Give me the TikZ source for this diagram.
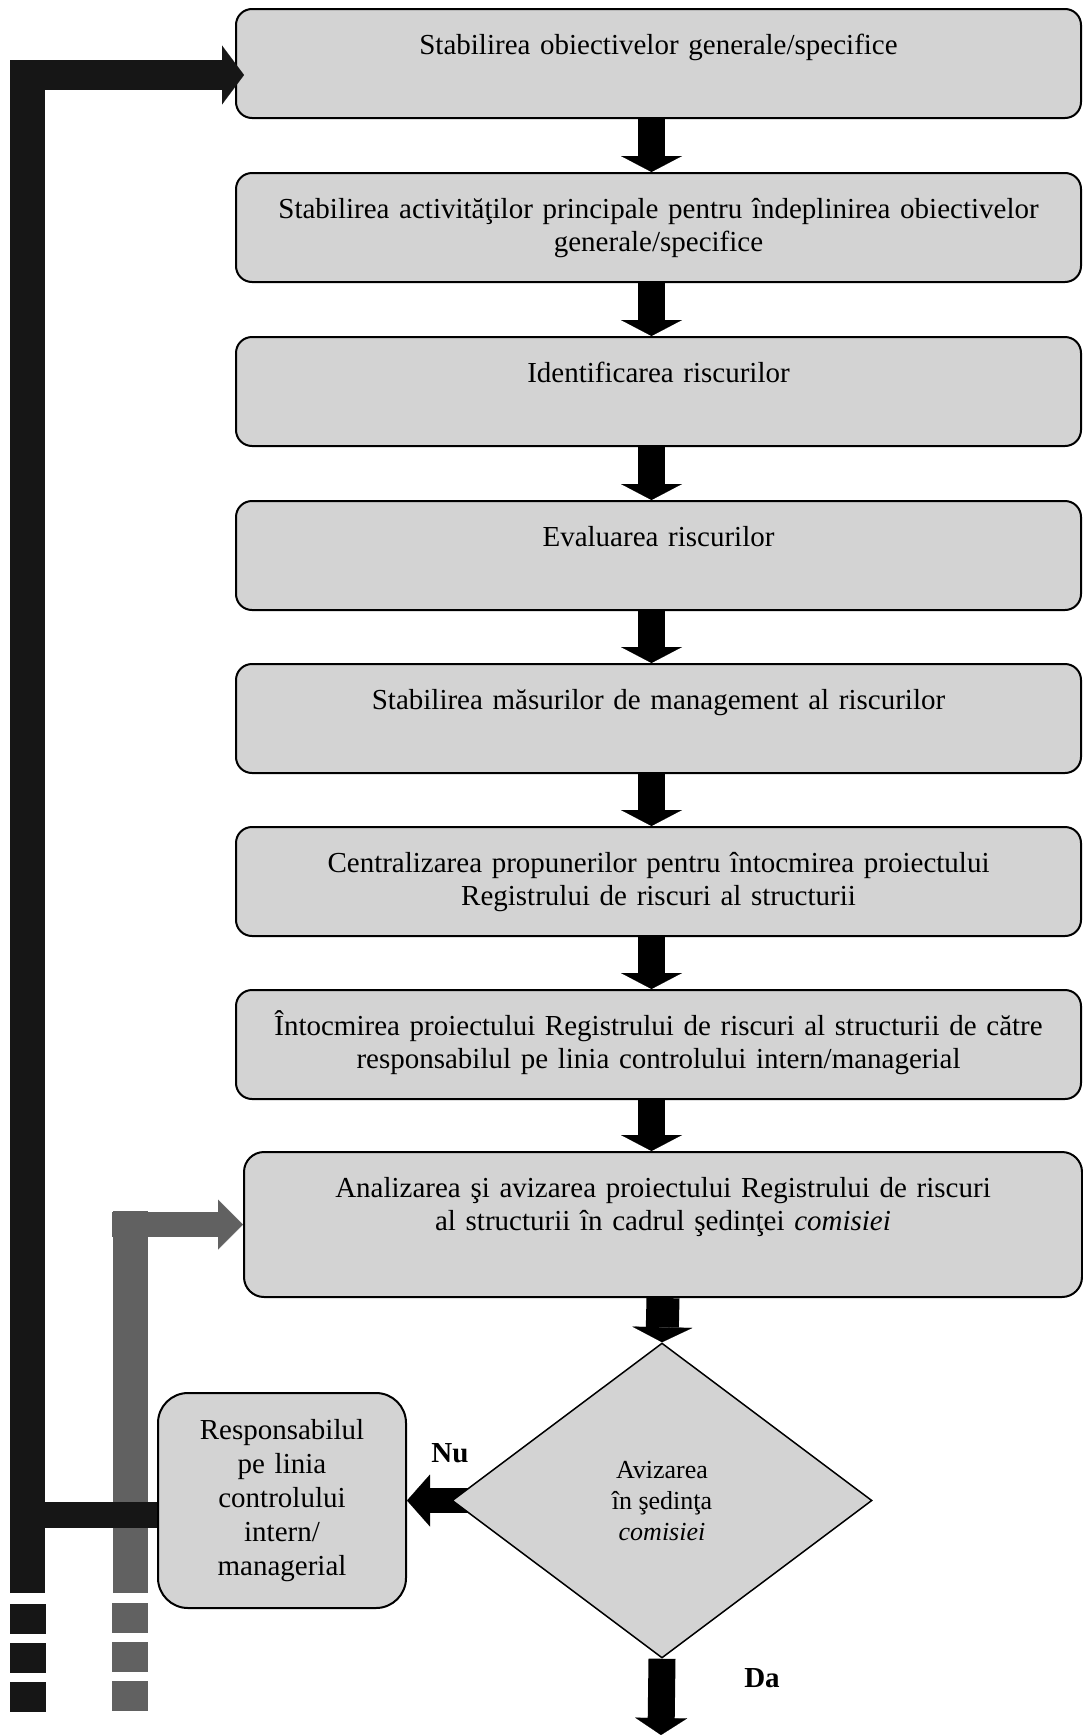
\documentclass[tikz,border=0pt]{standalone}
\usepackage{fontspec}
\setmainfont{Liberation Serif}
\usetikzlibrary{arrows.meta,shapes.geometric,backgrounds}

\definecolor{boxgray}{RGB}{211,211,211}
\definecolor{loopblack}{RGB}{22,22,22}
\definecolor{loopgray}{RGB}{97,97,97}

\tikzset{
    stepbox/.style={draw, line width=2pt, fill=boxgray, rounded corners=16pt,
        text width=830pt, align=center, inner xsep=7.5pt, inner ysep=0pt,
        text height=45pt, text depth=64pt, font=\fontsize{29}{33.5}\selectfont},
    respbox/.style={draw, line width=2pt, fill=boxgray, rounded corners=30pt,
        minimum width=248pt, minimum height=215pt, text width=230pt, inner sep=0pt,
        align=center, font=\fontsize{29}{34}\selectfont},
    decision/.style={diamond, draw, line width=1.5pt, fill=boxgray, inner sep=0pt,
        minimum width=420pt, minimum height=315pt, align=center,
        font=\fontsize{26}{31}\selectfont},
    branch/.style={font=\fontsize{29}{34}\selectfont\bfseries},
    flow/.style={line width=27pt, -{Triangle[width=61pt,length=16pt,line width=0.1pt]}},
}

\begin{document}
\begin{tikzpicture}[x=1pt,y=-1pt]

    \useasboundingbox (0,0) rectangle (1083,1735);

    \node[stepbox] (P1) at (658.5,63.5) {Stabilirea obiectivelor generale/specifice};
    \node[stepbox] (P2) at (658.5,227.5) {Stabilirea activităţilor principale pentru îndeplinirea obiectivelor\\generale/specifice};
    \node[stepbox] (P3) at (658.5,391.5) {Identificarea riscurilor};
    \node[stepbox] (P4) at (658.5,555.5) {Evaluarea riscurilor};
    \node[stepbox] (P5) at (658.5,718.5) {Stabilirea măsurilor de management al riscurilor};
    \node[stepbox] (P6) at (658.5,881.5) {Centralizarea propunerilor pentru întocmirea proiectului\\Registrului de riscuri al structurii};
    \node[stepbox] (P7) at (658.5,1044.5) {Întocmirea proiectului Registrului de riscuri al structurii de către\\responsabilul pe linia controlului intern/managerial};
    \node[stepbox, text depth=100pt, inner xsep=4pt, rounded corners=20pt] (P8) at (663,1224.5) {Analizarea şi avizarea proiectului Registrului de riscuri\\al structurii în cadrul şedinţei \textit{comisiei}};
    \node[decision] (D) at (662,1500.5) {Avizarea\\în şedinţa\\\textit{comisiei}};
    \node[respbox] (R) at (282,1500.5) {Responsabilul\\pe linia\\controlului\\intern/\\managerial};
    \node[branch] (nu) at (450,1453) {Nu};
    \node[branch] (da) at (762,1678) {Da};

    \foreach \a/\b in {P1/P2,P2/P3,P3/P4,P4/P5,P5/P6,P6/P7,P7/P8}
        \draw[flow] ([xshift=-7pt]\a.south) -- ([xshift=-7pt]\a.south |- \b.north);
    \draw[flow, line width=33pt, -{Triangle[width=60pt,length=15pt,line width=0.1pt]}] (P8.south) -- (D.north);
    \coordinate (daend) at (661,1735);
    \draw[flow, -{Triangle[width=52pt,length=17pt,line width=0.1pt]}] (D.south) -- (daend);
    \begin{scope}[on background layer]
        \draw[flow, line width=25pt, -{Triangle[width=52pt,length=23pt,line width=0.1pt]}] (D.center) -- (R.east);
    \end{scope}

    \coordinate (gfoot) at (130,1593);
    \coordinate (gtop) at (130,1211);
    \coordinate (gelbow) at (112,1224.5);
    \coordinate (gdash) at (130,1603);
    \coordinate (gdashend) at (130,1711);
    \draw[loopgray, line width=35pt] (gfoot) -- (gtop);
    \draw[loopgray, line width=25pt, -{Triangle[width=50pt,length=25pt,line width=0.1pt]}] (gelbow) -- (P8.west);
    \draw[loopgray, line width=36pt, dash pattern=on 30pt off 9pt] (gdash) -- (gdashend);

    \coordinate (kfoot) at (27.5,1593);
    \coordinate (ktop) at (27.5,60);
    \coordinate (kelbow) at (10,75);
    \coordinate (kjoin) at (27.5,1515);
    \coordinate (kdash) at (27.5,1604);
    \coordinate (kdashend) at (27.5,1712);
    \draw[loopblack, line width=35pt] (kfoot) -- (ktop);
    \draw[loopblack, line width=30pt, -{Triangle[width=59pt,length=22pt,line width=0.1pt]}] (kelbow) -- ([xshift=9pt,yshift=-11.5pt]P1.west);
    \draw[loopblack, line width=26pt] ([yshift=-14.5pt]R.west) -- (kjoin);
    \draw[loopblack, line width=36pt, dash pattern=on 30pt off 9pt] (kdash) -- (kdashend);

\end{tikzpicture}
\end{document}
